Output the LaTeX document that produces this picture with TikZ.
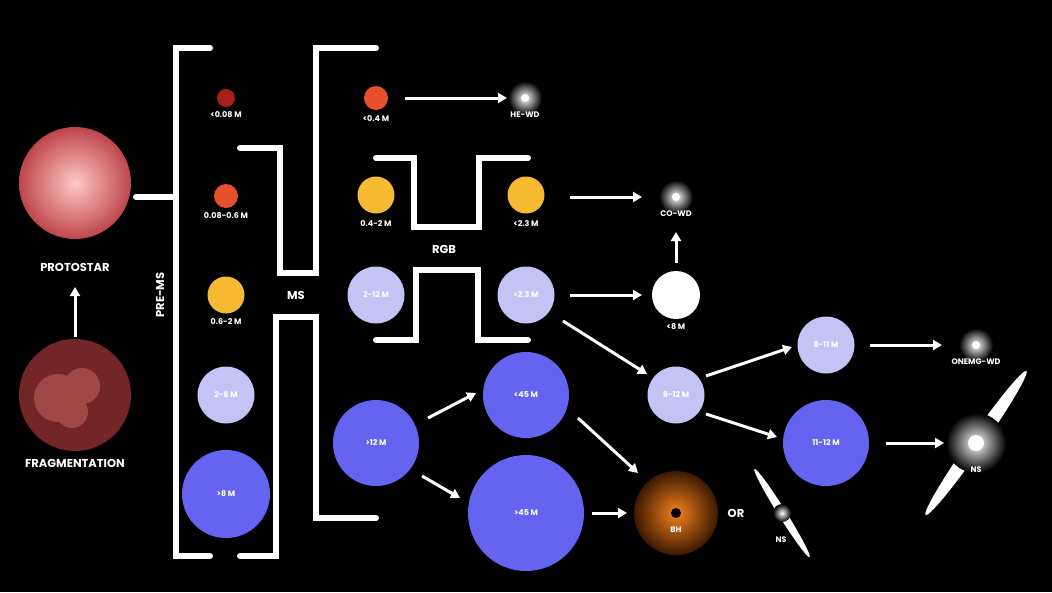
\documentclass[tikz,border=0pt]{standalone}
\usepackage{fontspec}
\setmainfont{Poppins}
\usetikzlibrary{arrows.meta}
\definecolor{protoin}{RGB}{255,200,200}
\definecolor{protoout}{RGB}{190,70,75}
\definecolor{fragc}{RGB}{115,38,40}
\definecolor{fragl}{RGB}{160,72,72}
\definecolor{dred}{RGB}{170,30,25}
\definecolor{ored}{RGB}{230,80,45}
\definecolor{yel}{RGB}{245,185,50}
\definecolor{lav}{RGB}{195,195,245}
\definecolor{blu}{RGB}{100,100,240}
\definecolor{bhin}{RGB}{245,130,30}
\definecolor{bhout}{RGB}{60,25,0}
\begin{document}
\begin{tikzpicture}[x=1pt,y=-1pt,
  wall/.style={white,line width=6pt,line cap=round,line join=miter},
  arr/.style={white,line width=3pt,-{Triangle[length=9pt,width=10pt]}},
  star/.style={circle,inner sep=0pt,minimum size=#1},
  lab/.style={text=white,font=\bfseries\fontsize{8}{9}\selectfont,inner sep=0pt},
  big/.style={text=white,font=\bfseries\fontsize{11.5}{12}\selectfont,inner sep=0pt},
  glow/.style={circle,inner sep=0pt,minimum size=#1,shading=radial,inner color=white,outer color=black}]
\fill[black] (0,0) rectangle (1052,592);
\useasboundingbox (0,0) rectangle (1052,592);
% brackets
\draw[wall] (210,48) -- (176,48) -- (176,556) -- (210,556);
\draw[wall] (136,197) -- (176,197);
\draw[wall] (240,148) -- (280,148) -- (280,273) -- (316,273) -- (316,48) -- (376,48);
\draw[wall] (240,556) -- (276,556) -- (276,317) -- (316,317) -- (316,518) -- (376,518);
\draw[wall] (376,158) -- (414,158) -- (414,227) -- (479,227) -- (479,158) -- (528,158);
\draw[wall] (376,340) -- (416,340) -- (416,270) -- (478,270) -- (478,340) -- (528,340);
% protostar & fragmentation
\node[star=112pt,shading=radial,inner color=protoin,outer color=protoout] (proto) at (75,183) {};
\node[big] at (75,267) {PROTOSTAR};
\node[star=112pt,fill=fragc] (frag) at (75,395) {};
\fill[fragl] (58,398) circle (24) (82,386) circle (18) (72,412) circle (16);
\node[big] at (75,463) {FRAGMENTATION};
\node[big,rotate=90] at (160,295) {PRE-MS};
\node[big] at (296,295) {MS};
\node[big] at (444,249) {RGB};
\node[big] at (736,513) {OR};
% column 1
\node[star=18pt,fill=dred] (s1) at (226,98) {};
\node[lab] at (226,115) {<0.08 M};
\node[star=24pt,fill=ored] (s2) at (226,196) {};
\node[lab] at (226,216) {0.08-0.6 M};
\node[star=37pt,fill=yel] (s3) at (226,295) {};
\node[lab] at (226,322) {0.6-2 M};
\node[star=57pt,fill=lav,lab] (s4) at (226,395) {2-8 M};
\node[star=88pt,fill=blu,lab] (s5) at (226,494) {>8 M};
% column 2
\node[star=24pt,fill=ored] (a1) at (376,98) {};
\node[lab] at (376,119) {<0.4 M};
\node[star=37pt,fill=yel] (a2) at (376,195) {};
\node[lab] at (376,224) {0.4-2 M};
\node[star=57pt,fill=lav,lab] (a3) at (376,295) {2-12 M};
\node[star=86pt,fill=blu,lab] (a4) at (376,443) {>12 M};
% column 3
\node[glow=34pt] (hewd) at (525,98) {};
\fill[white] (hewd) circle (4);
\node[lab] at (525,115) {HE-WD};
\node[star=37pt,fill=yel] (b2) at (526,195) {};
\node[lab] at (526,224) {<2.3 M};
\node[star=57pt,fill=lav,lab] (b3) at (526,295) {>2.3 M};
\node[star=86pt,fill=blu,lab] (b4) at (526,395) {<45 M};
\node[star=116pt,fill=blu,lab] (b5) at (526,513) {>45 M};
% column 4
\node[glow=34pt] (cowd) at (676,197) {};
\fill[white] (cowd) circle (4);
\node[lab] at (676,214) {CO-WD};
\node[star=48pt,fill=white] (c3) at (676,295) {};
\node[lab] at (676,327) {<8 M};
\node[star=57pt,fill=lav,lab] (c4) at (676,395) {8-12 M};
\node[star=84pt,shading=radial,inner color=bhin,outer color=bhout] (bh) at (676,513) {};
\fill[black] (bh) circle (5);
\node[lab] at (676,530) {BH};
% NS small
\fill[white,rotate around={-58:(782,513)}] (782,513) ellipse (52 and 4);
\node[glow=18pt] (ns1) at (782,513) {};
\node[lab] at (781,540) {NS};
% column 5
\node[star=57pt,fill=lav,lab] (d1) at (826,345) {8-11 M};
\node[star=86pt,fill=blu,lab] (d2) at (826,443) {11-12 M};
% column 6
\node[glow=34pt] (onemg) at (976,345) {};
\fill[white] (onemg) circle (4);
\node[lab] at (976,362) {ONEMG-WD};
\fill[white,rotate around={55:(976,443)}] (976,443) ellipse (88 and 7);
\node[glow=60pt] (ns2) at (976,443) {};
\fill[white] (ns2) circle (8);
\node[lab] at (976,470) {NS};
% arrow start/end points
\coordinate (q1) at (405,98);   \coordinate (e1) at (507,98);
\coordinate (q2) at (570,197);  \coordinate (e2) at (642,197);
\coordinate (q3) at (676,263);  \coordinate (e3) at (676,232);
\coordinate (q4) at (570,295);  \coordinate (e4) at (642,295);
\coordinate (q5) at (563,321);  \coordinate (e5) at (647,374);
\coordinate (q6) at (428,418);  \coordinate (e6) at (476,393);
\coordinate (q7) at (422,476);  \coordinate (e7) at (460,498);
\coordinate (q8) at (578,418);  \coordinate (e8) at (638,473);
\coordinate (q9) at (592,513);  \coordinate (e9) at (627,513);
\coordinate (q10) at (706,376); \coordinate (e10) at (792,347);
\coordinate (q11) at (706,414); \coordinate (e11) at (777,437);
\coordinate (q12) at (870,345); \coordinate (e12) at (942,345);
\coordinate (q13) at (886,443); \coordinate (e13) at (944,443);
\coordinate (q0) at (75,337);   \coordinate (e0) at (75,287);
% arrows
\draw[arr] (q0) -- (e0);
\draw[arr] (q1) -- (e1);
\draw[arr] (q2) -- (e2);
\draw[arr] (q3) -- (e3);
\draw[arr] (q4) -- (e4);
\draw[arr] (q5) -- (e5);
\draw[arr] (q6) -- (e6);
\draw[arr] (q7) -- (e7);
\draw[arr] (q8) -- (e8);
\draw[arr] (q9) -- (e9);
\draw[arr] (q10) -- (e10);
\draw[arr] (q11) -- (e11);
\draw[arr] (q12) -- (e12);
\draw[arr] (q13) -- (e13);
\end{tikzpicture}
\end{document}
